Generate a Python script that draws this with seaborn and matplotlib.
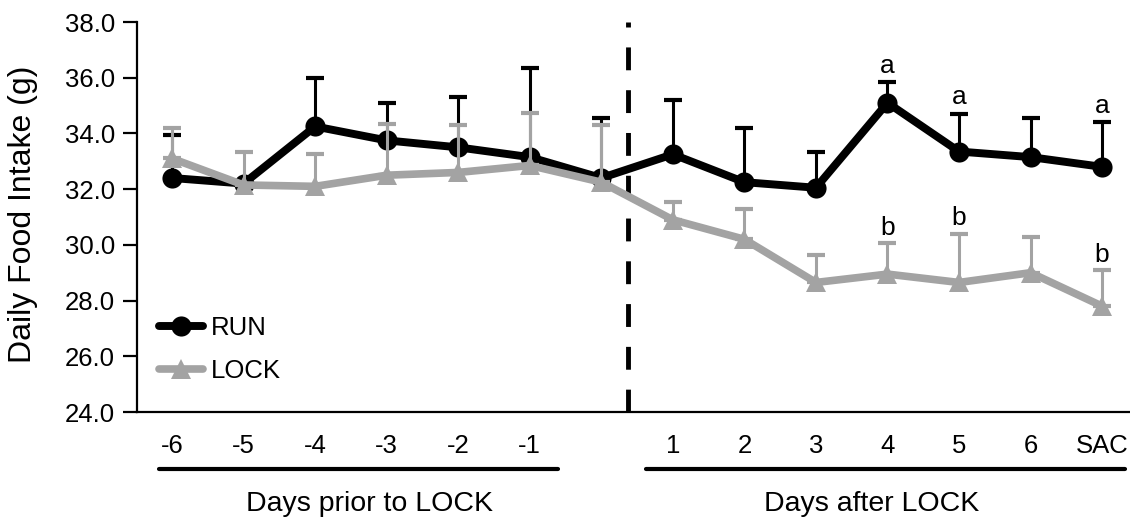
import numpy as np
import pandas as pd
import matplotlib
matplotlib.use("Agg")
import matplotlib.pyplot as plt
import seaborn as sns

# ---- data ----
tick_labels = ["-6", "-5", "-4", "-3", "-2", "-1", "", "1", "2", "3", "4", "5", "6", "SAC"]
run_mean = [32.4, 32.2, 34.25, 33.75, 33.5, 33.15, 32.4, 33.25, 32.25, 32.05, 35.1, 33.35, 33.15, 32.8]
run_err = [1.55, 0.0, 1.75, 1.35, 1.8, 3.2, 2.15, 1.95, 1.95, 1.3, 0.75, 1.35, 1.4, 1.6]
lock_mean = [33.1, 32.15, 32.1, 32.5, 32.6, 32.85, 32.25, 30.9, 30.2, 28.65, 28.95, 28.65, 29.0, 27.8]
lock_err = [1.1, 1.2, 1.15, 1.85, 1.7, 1.9, 2.05, 0.65, 1.1, 1.0, 1.1, 1.75, 1.3, 1.3]
group_labels = ["Days prior to LOCK", "Days after LOCK"]
annot_a = {10: 36.43, 11: 35.29, 13: 35.0}
annot_b = {10: 30.6, 11: 30.96, 13: 29.64}

sns.set_style("ticks")
plt.rcParams["font.family"] = ["Liberation Sans", "DejaVu Sans"]
plt.rcParams.update({
    "text.color": "black", "axes.labelcolor": "black",
    "xtick.color": "black", "ytick.color": "black", "axes.edgecolor": "black",
})

x = np.arange(len(tick_labels))
df = pd.DataFrame({
    "x": np.concatenate([x, x]),
    "val": run_mean + lock_mean,
    "grp": ["RUN"] * len(x) + ["LOCK"] * len(x),
})

fig = plt.figure(figsize=(11.3, 5.18), dpi=100)
ax = fig.add_axes([137 / 1130, 106 / 518, 1 - 137 / 1130, 390 / 518])

black = "#000000"
grey = "#a3a3a3"

# RUN
ax.errorbar(x, run_mean, yerr=[np.zeros(len(x)), run_err], fmt="none",
            ecolor=black, elinewidth=2.2, capsize=6.5, capthick=3, zorder=2)
sns.lineplot(data=df[df.grp == "RUN"], x="x", y="val", ax=ax, color=black,
             lw=5.7, marker="o", markersize=14.5, markeredgewidth=0,
             label="RUN", zorder=3)
# LOCK
ax.errorbar(x, lock_mean, yerr=[np.zeros(len(x)), lock_err], fmt="none",
            ecolor=grey, elinewidth=2.2, capsize=6.5, capthick=3, zorder=4)
sns.lineplot(data=df[df.grp == "LOCK"], x="x", y="val", ax=ax, color=grey,
             lw=5.5, marker="^", markersize=14.5, markeredgewidth=0,
             label="LOCK", zorder=5)

# dashed separator
ax.axvline(6.37, color="black", lw=3.5, ls=(0, (4.7, 4.1)), zorder=1)

ax.set_xlim(-0.49, 13.39)
ax.set_ylim(24, 38)
yt = np.arange(24, 38.1, 2)
ax.set_yticks(yt)
ax.set_yticklabels([f"{v:.1f}" for v in yt], fontsize=18.5)
ax.set_xticks(x)
ax.set_xticklabels(tick_labels, fontsize=18.5)
ax.tick_params(axis="x", length=0, pad=16)
ax.tick_params(axis="y", length=10, width=1.6, pad=6)
ax.set_xlabel("")
ax.set_ylabel("")
fig.text(23 / 1130, 1 - 214 / 518, "Daily Food Intake (g)", rotation=90,
         ha="center", va="center", fontsize=23)
sns.despine(ax=ax, top=True, right=True)
for s in ["left", "bottom"]:
    ax.spines[s].set_linewidth(1.6)

# annotations
for k, v in annot_a.items():
    ax.text(x[k], v, "a", ha="center", va="center", fontsize=19)
for k, v in annot_b.items():
    ax.text(x[k], v, "b", ha="center", va="center", fontsize=19)

# group bars and labels
trans = ax.get_xaxis_transform()
yb = (411 - 468) / 390
yl = (411 - 503) / 390
ax.plot([-0.18, 5.4], [yb, yb], color="black", lw=3, transform=trans, clip_on=False)
ax.plot([6.62, 13.32], [yb, yb], color="black", lw=3, transform=trans, clip_on=False)
ax.text(2.76, yl, group_labels[0], transform=trans, ha="center", va="center", fontsize=20.5)
ax.text(9.78, yl, group_labels[1], transform=trans, ha="center", va="center", fontsize=20.5)

leg = ax.legend(loc="center left", bbox_to_anchor=(0.012, 0.16), frameon=False,
                fontsize=18.5, handlelength=1.7, labelspacing=0.75, handletextpad=0.3,
                borderaxespad=0)

fig.savefig("out.png", dpi=100)
